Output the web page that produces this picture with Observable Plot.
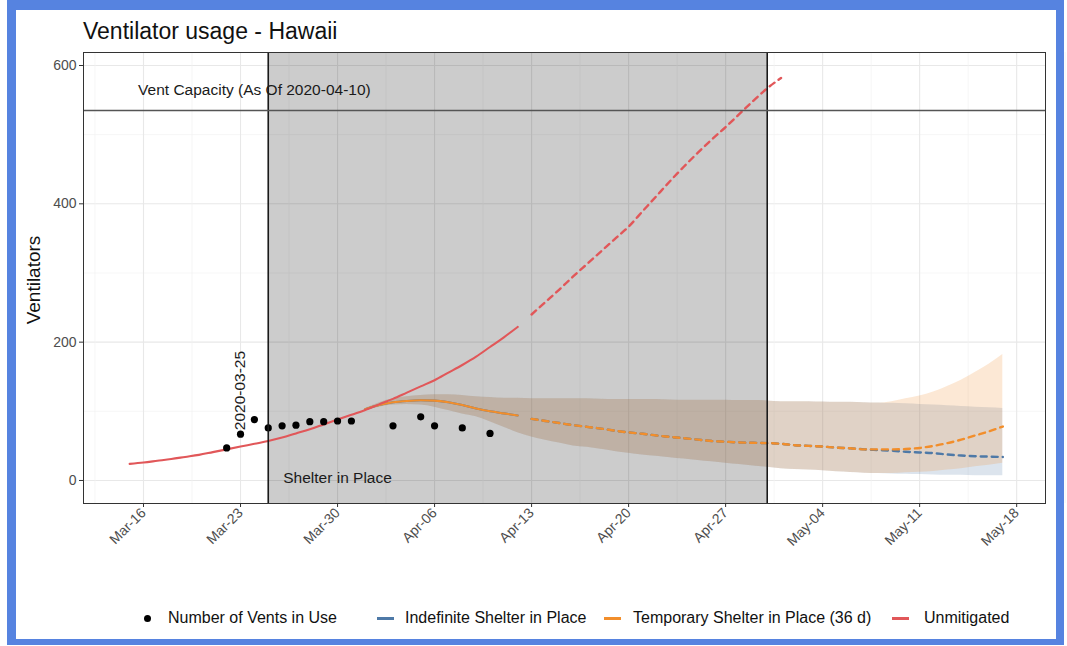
<!DOCTYPE html>
<html>
<head>
<meta charset="utf-8">
<script src="https://cdn.jsdelivr.net/npm/d3@7"></script>
<script src="https://cdn.jsdelivr.net/npm/@observablehq/plot@0.6"></script>
<style>
  body { margin: 0; background: #fff; font-family: "Liberation Sans", Arial, sans-serif; }
  #wrap { position: relative; width: 1067px; height: 646px; overflow: hidden; background: #fff; }
  #frame { position: absolute; left: 7px; top: 0; width: 1040px; height: 629px;
           border-style: solid; border-color: #5683e0; border-width: 10px 8px 6px 9px; pointer-events: none; }
  #title { position: absolute; left: 83px; top: 20px; font-size: 23px; line-height: 1; color: #111; white-space: nowrap; }
  #ylab { position: absolute; left: 33px; top: 280px; font-size: 19px; line-height: 1; color: #111;
          transform: translate(-50%, -50%) rotate(-90deg); white-space: nowrap; }
  #chart { position: absolute; left: 0; top: 0; }
  .lg { position: absolute; top: 608px; height: 20px; line-height: 20px; font-size: 16px; color: #111; white-space: nowrap; }
  .key-dot { position: absolute; width: 7px; height: 7px; border-radius: 50%; background: #000; }
  .key-line { position: absolute; width: 17px; height: 2.5px; }
</style>
</head>
<body>
<div id="wrap">
  <div id="chart"></div>
  <div id="title">Ventilator usage - Hawaii</div>
  <div id="ylab">Ventilators</div>
  <div id="legend"></div>
  <div id="frame"></div>
</div>
<script>
// Observed ventilators in use
const ventDates = ["2020-03-22","2020-03-23","2020-03-24","2020-03-25","2020-03-26","2020-03-27","2020-03-28",
  "2020-03-29","2020-03-30","2020-03-31","2020-04-03","2020-04-05","2020-04-06","2020-04-08","2020-04-10"];
const ventCounts = [47, 67, 88, 76, 79, 80, 85, 85, 86, 86, 79, 92, 79, 76, 68];

// Unmitigated projection (solid through Apr 12, dashed afterwards)
const unmitigatedDates = ["2020-03-15","2020-03-16","2020-03-17","2020-03-18","2020-03-19","2020-03-20","2020-03-21",
  "2020-03-22","2020-03-23","2020-03-24","2020-03-25","2020-03-26","2020-03-27","2020-03-28","2020-03-29","2020-03-30",
  "2020-03-31","2020-04-01","2020-04-02","2020-04-03","2020-04-04","2020-04-05","2020-04-06","2020-04-07","2020-04-08",
  "2020-04-09","2020-04-10","2020-04-11","2020-04-12","2020-04-13","2020-04-14","2020-04-15","2020-04-16","2020-04-17",
  "2020-04-18","2020-04-19","2020-04-20","2020-04-21","2020-04-22","2020-04-23","2020-04-24","2020-04-25","2020-04-26",
  "2020-04-27","2020-04-28","2020-04-29","2020-04-30","2020-05-01"];
const unmitigated = [24, 26, 28.5, 31, 34, 37, 41, 45, 49, 53, 57, 62, 68, 74, 81, 88, 95,
  102, 110, 118, 127, 136, 145, 156, 167, 179, 193, 207, 222,
  240, 258, 276, 295, 313, 331, 349, 367, 389, 411, 433, 454, 474, 493, 511, 530, 549, 567, 582];

// Shelter-in-place projections
const projDates = ["2020-04-01","2020-04-02","2020-04-03","2020-04-04","2020-04-05","2020-04-06","2020-04-07",
  "2020-04-08","2020-04-09","2020-04-10","2020-04-11","2020-04-12","2020-04-13","2020-04-14","2020-04-15","2020-04-16",
  "2020-04-17","2020-04-18","2020-04-19","2020-04-20","2020-04-21","2020-04-22","2020-04-23","2020-04-24","2020-04-25",
  "2020-04-26","2020-04-27","2020-04-28","2020-04-29","2020-04-30","2020-05-01","2020-05-02","2020-05-03","2020-05-04",
  "2020-05-05","2020-05-06","2020-05-07","2020-05-08","2020-05-09","2020-05-10","2020-05-11","2020-05-12","2020-05-13",
  "2020-05-14","2020-05-15","2020-05-16","2020-05-17"];
const temporary = [103, 109, 113, 115, 116, 115.5, 113, 109, 104, 100, 97, 94,
  89, 86, 83, 80, 77.5, 75, 72, 69.5, 67.5, 65, 63, 61, 59, 57, 56, 55, 54.5, 54,
  53, 51, 50, 49, 47.5, 46.5, 45, 45, 45, 45.5, 47, 50, 54, 59, 65, 71, 78];
const temporaryHi = [104, 112, 118, 121, 123, 124, 124, 123, 121, 120, 119, 119,
  118, 118, 118, 118, 118, 117.5, 117, 117, 117, 117, 116.5, 116, 116, 116, 116, 115.5, 115.5, 115,
  114, 114, 114, 113.5, 113, 113, 112.5, 112, 114, 118, 122, 128, 136, 145, 156, 168, 182];
const temporaryLo = [101, 106, 109, 110, 109, 106, 101, 96, 92, 85, 77, 69,
  63, 58, 54, 50, 48, 45, 42, 39.5, 37, 35, 33, 31, 29, 27, 25, 23, 21, 19,
  17, 16, 15, 14, 12.5, 11.5, 10.5, 10, 10, 11, 12, 13, 15, 17, 20, 22, 25];
const indefinite = [103, 109, 113, 115, 116, 115.5, 113, 109, 104, 100, 97, 94,
  89, 86, 83, 80, 77.5, 75, 72, 69.5, 67.5, 65, 63, 61, 59, 57, 56, 55, 54.5, 54,
  53, 51, 50, 49, 47.5, 46.5, 45, 44, 43, 41.5, 40.5, 39.5, 37.5, 36, 35, 34.5, 34];
const indefiniteHi = [104, 112, 118, 121, 123, 124, 124, 123, 121, 120, 119, 119,
  118, 118, 118, 118, 118, 117.5, 117, 117, 117, 117, 116.5, 116, 116, 116, 116, 115.5, 115.5, 115,
  114, 114, 114, 113.5, 113, 113, 112.5, 112, 111.5, 111, 110, 109, 108, 107, 106, 105, 104];
const indefiniteLo = [101, 106, 109, 110, 109, 106, 101, 96, 92, 85, 77, 69,
  63, 58, 54, 50, 48, 45, 42, 39.5, 37, 35, 33, 31, 29, 27, 25, 23, 21, 19,
  17, 16, 15, 14, 12.5, 11.5, 10.5, 10, 9.5, 9, 8.5, 8, 7.5, 7.5, 7, 7, 7];

const lastFitted = "2020-04-12";          // last day drawn as a solid line
const shelterStart = "2020-03-25";
const shelterEnd = "2020-04-30";
const ventCapacity = 535;

const xTickDates = ["2020-03-16","2020-03-23","2020-03-30","2020-04-06","2020-04-13","2020-04-20",
  "2020-04-27","2020-05-04","2020-05-11","2020-05-18"];
const yTicks = [0, 200, 400, 600];
const yMinorTicks = [100, 300, 500];

const seriesNames = ["Indefinite Shelter in Place", "Temporary Shelter in Place (36 d)", "Unmitigated"];
const seriesColors = ["#4e79a7", "#f28e2b", "#e15759"];

// ---- build tables ----
const P = s => new Date(s + "T00:00:00Z");
const DAY = 864e5;
const cut = P(lastFitted);

const vents = ventDates.map((d, i) => ({date: P(d), value: ventCounts[i]}));
const unmit = unmitigatedDates.map((d, i) => ({date: P(d), value: unmitigated[i]}));
const proj = projDates.map((d, i) => ({
  date: P(d),
  tmp: temporary[i], tmpHi: temporaryHi[i], tmpLo: temporaryLo[i],
  ind: indefinite[i], indHi: indefiniteHi[i], indLo: indefiniteLo[i]
}));
const solid = rows => rows.filter(r => r.date <= cut);
const dashed = rows => rows.filter(r => r.date > cut);

const xTicks = xTickDates.map(P);
const xMinor = [new Date(+xTicks[0] - 3.5 * DAY), ...xTicks.map(t => new Date(+t + 3.5 * DAY))];
const xDomain = [new Date(+P("2020-03-11") + 0.67 * DAY), new Date(+P("2020-05-20") + 0.08 * DAY)];
const yDomain = [-33.3, 618.8];

const lineOpts = (y, color, dash) => ({
  x: "date", y, stroke: color, strokeWidth: dash ? 2.4 : 2.1,
  strokeDasharray: dash ? "6,5" : null, curve: "monotone-x"
});

const chart = Plot.plot({
  width: 1067, height: 600,
  marginLeft: 83, marginRight: 22, marginTop: 52, marginBottom: 97,
  style: {fontFamily: "'Liberation Sans', Arial, sans-serif", fontSize: "14px", color: "#4d4d4d", background: "transparent"},
  x: {type: "utc", domain: xDomain},
  y: {domain: yDomain},
  marks: [
    // grid
    Plot.ruleY(yMinorTicks, {stroke: "#f2f2f2", strokeWidth: 0.7}),
    Plot.ruleY(yTicks, {stroke: "#e8e8e8", strokeWidth: 1.1}),
    Plot.ruleX(xMinor, {stroke: "#f2f2f2", strokeWidth: 0.7}),
    Plot.ruleX(xTicks, {stroke: "#e8e8e8", strokeWidth: 1.1}),
    // shelter-in-place window
    Plot.rect([{a: P(shelterStart), b: P(shelterEnd)}],
      {x1: "a", x2: "b", y1: yDomain[0], y2: yDomain[1], fill: "black", fillOpacity: 0.2}),
    // uncertainty ribbons
    Plot.areaY(proj, {x: "date", y1: "indLo", y2: "indHi", fill: seriesColors[0], fillOpacity: 0.2, curve: "monotone-x"}),
    Plot.areaY(proj, {x: "date", y1: "tmpLo", y2: "tmpHi", fill: seriesColors[1], fillOpacity: 0.2, curve: "monotone-x"}),
    // projections
    Plot.line(solid(proj), lineOpts("ind", seriesColors[0], false)),
    Plot.line(dashed(proj), lineOpts("ind", seriesColors[0], true)),
    Plot.line(solid(proj), lineOpts("tmp", seriesColors[1], false)),
    Plot.line(dashed(proj), lineOpts("tmp", seriesColors[1], true)),
    Plot.line(solid(unmit), lineOpts("value", seriesColors[2], false)),
    Plot.line(dashed(unmit), lineOpts("value", seriesColors[2], true)),
    // observed
    Plot.dot(vents, {x: "date", y: "value", r: 3.6, fill: "black"}),
    // reference lines and annotations
    Plot.ruleX([P(shelterStart), P(shelterEnd)], {stroke: "#1a1a1a", strokeWidth: 1.6}),
    Plot.ruleY([ventCapacity], {stroke: "#555", strokeWidth: 1.5}),
    Plot.text([{d: P("2020-03-24"), v: 565}], {x: "d", y: "v", text: () => "Vent Capacity (As Of 2020-04-10)", fontSize: 15.5, fill: "#1a1a1a"}),
    Plot.text([{d: P("2020-03-23"), v: 130}], {x: "d", y: "v", text: () => "2020-03-25", rotate: -90, fontSize: 15.5, fill: "#1a1a1a"}),
    Plot.text([{d: P("2020-03-30"), v: 3}], {x: "d", y: "v", text: () => "Shelter in Place", fontSize: 15.5, fill: "#1a1a1a"}),
    Plot.frame({stroke: "#333", strokeWidth: 1}),
    Plot.axisY({ticks: yTicks, tickSize: 4, tickPadding: 3, label: null, fill: "#4d4d4d", stroke: "#333", fontSize: 14}),
    Plot.axisX({ticks: xTicks, tickFormat: d3.utcFormat("%b-%d"), tickRotate: -45, tickSize: 4, tickPadding: 3,
      label: null, fill: "#4d4d4d", stroke: "#333", fontSize: 14})
  ]
});
document.getElementById("chart").appendChild(chart);

// legend
const legend = document.getElementById("legend");
const addText = (x, t) => {
  const el = document.createElement("div");
  el.className = "lg"; el.style.left = x + "px"; el.textContent = t;
  legend.appendChild(el);
};
const dot = document.createElement("div");
dot.className = "key-dot"; dot.style.left = "143.5px"; dot.style.top = "614.5px";
legend.appendChild(dot);
addText(168, "Number of Vents in Use");
const keyX = [377, 604, 892], textX = [405, 633, 924];
seriesNames.forEach((name, i) => {
  const k = document.createElement("div");
  k.className = "key-line"; k.style.left = keyX[i] + "px"; k.style.top = "617px";
  k.style.background = seriesColors[i];
  legend.appendChild(k);
  addText(textX[i], name);
});
</script>
</body>
</html>
